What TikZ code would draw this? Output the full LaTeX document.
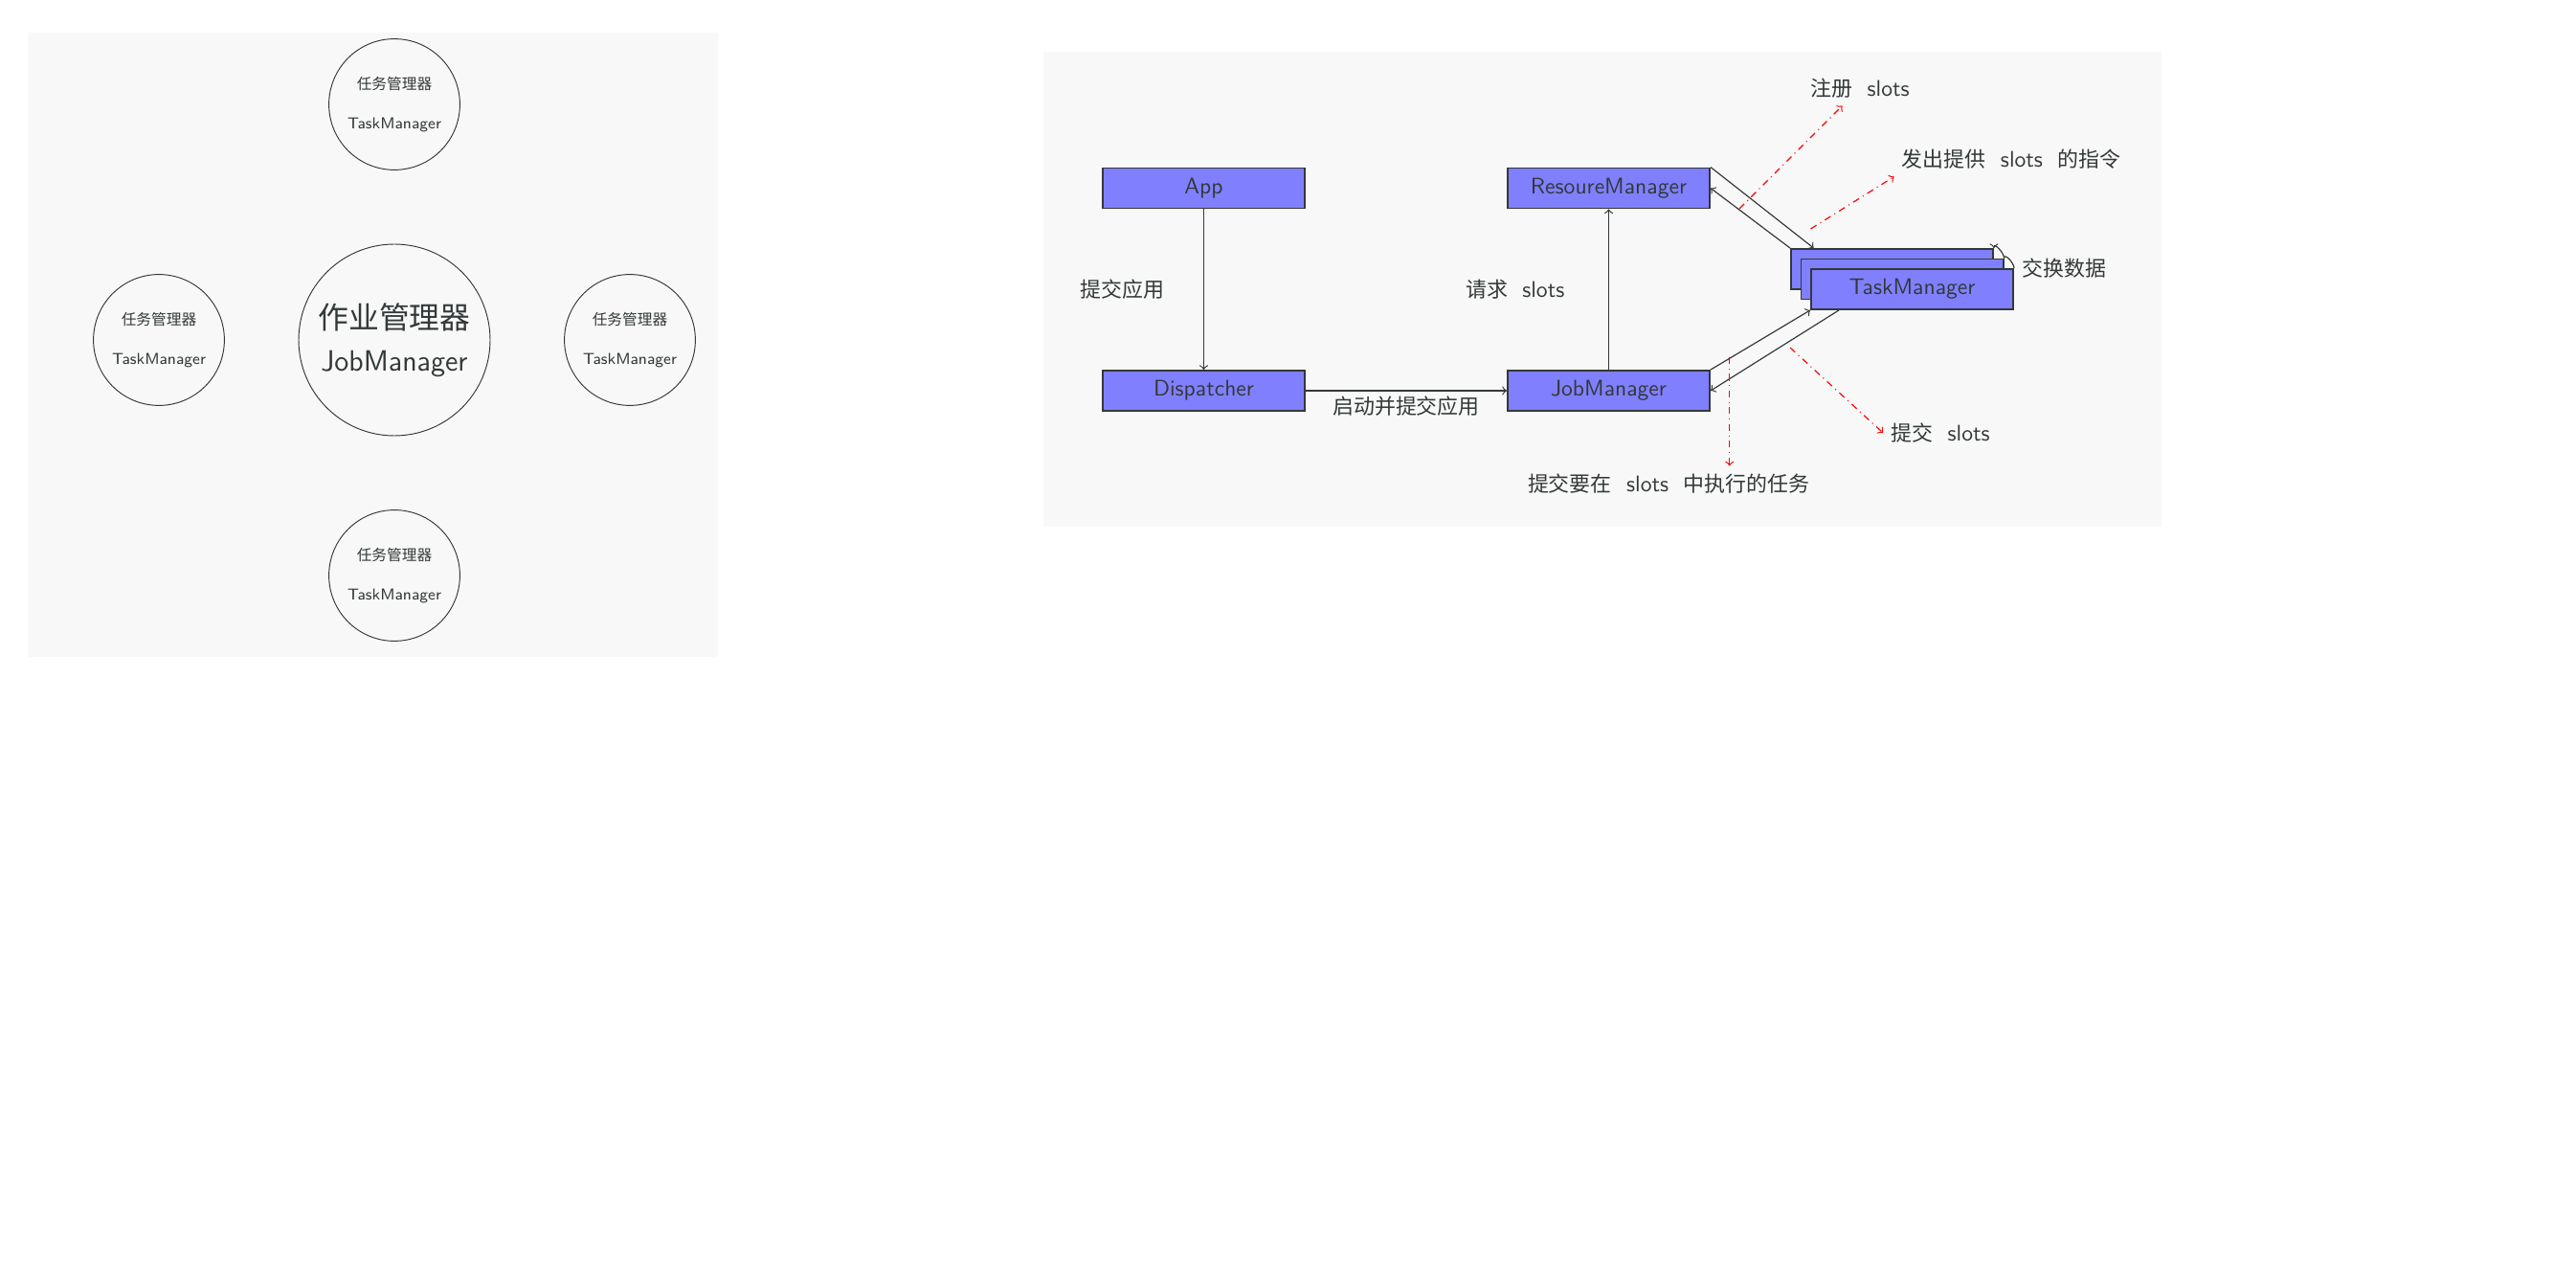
\documentclass[tikz,border=0pt]{standalone}
\usepackage{fontspec}
\usepackage{xcolor}
\usepackage{tikz}
\newfontfamily\cjk[Scale=0.93]{Noto Sans CJK SC}
\definecolor{panelgray}{rgb}{0.973,0.973,0.973}
\definecolor{boxblue}{rgb}{0.5,0.5,1}
\definecolor{inkgray}{rgb}{0.2,0.22,0.22}
\newcommand{\slotgap}{\hspace{6.5pt}}

\begin{document}
\begin{tikzpicture}[x=4.24pt,y=4.24pt,
    every node/.style={font=\sffamily, text=inkgray},
    tmcircle/.style={circle, draw=inkgray, inner sep=0pt, minimum size=58pt, align=center,
        font=\sffamily\fontsize{7}{9}\selectfont},
    jmcircle/.style={circle, draw=inkgray, inner sep=0pt, minimum size=84.8pt, align=center,
        font=\sffamily\fontsize{13}{18.6}\selectfont},
    box/.style={draw=inkgray, thick, fill=boxblue, minimum width=89.5pt, minimum height=17.8pt, inner sep=0pt},
    flow/.style={->, draw=inkgray, line width=0.5pt},
    hint/.style={->, red, dash dot, line width=0.5pt}]
        % Background and panels
        \fill[white] (0,0) rectangle (269.1,134.4);
        \useasboundingbox (0,0) rectangle (269.1,134.4);
        \fill[panelgray] (2.9,65.8) rectangle (75.0,131.0);
        \fill[panelgray] (109.0,79.4) rectangle (225.8,129.0);

        % JobManager with its TaskManagers
        \node[jmcircle] (jm) at (41.2,98.9) {{\cjk\fontsize{14.5}{18}\selectfont 作业管理器}\\JobManager};
        \node[tmcircle] (tmn) at (41.2,123.5) {{\cjk\fontsize{7.15}{9}\selectfont 任务管理器}\\[8.4pt]TaskManager};
        \node[tmcircle] (tmw) at (16.6,98.9) {{\cjk\fontsize{7.15}{9}\selectfont 任务管理器}\\[8.4pt]TaskManager};
        \node[tmcircle] (tme) at (65.8,98.9) {{\cjk\fontsize{7.15}{9}\selectfont 任务管理器}\\[8.4pt]TaskManager};
        \node[tmcircle] (tms) at (41.2,74.3) {{\cjk\fontsize{7.15}{9}\selectfont 任务管理器}\\[8.4pt]TaskManager};

        % Components
        \node[box] (app) at (125.75,114.75) {App};
        \node[box] (disp) at (125.75,93.6) {Dispatcher};
        \node[box] (rm) at (168.05,114.75) {ResoureManager};
        \node[box] (jobm) at (168.05,93.6) {JobManager};
        \node[box] (tm3) at (197.65,106.3) {};
        \node[box] (tm2) at (198.7,105.25) {};
        \node[box] (tm1) at (199.75,104.2) {TaskManager};

        % Connections
        \draw[flow] (app) -- node[left=14pt] {{\cjk 提交应用}} (disp);
        \draw[flow] (disp) -- node[below=-1pt] {{\cjk 启动并提交应用}} (jobm);
        \draw[flow] (jobm) -- node[left=16pt] {{\cjk 请求}\slotgap slots} (rm);
        \draw[flow] (rm.north east) -- (tm3.165);
        \draw[flow] (tm3.north west) -- (rm.east);
        \draw[flow] (jobm.north east) -- (tm1.south west);
        \draw[flow] (tm1.196) -- (jobm.east);

        % Data exchange between TaskManagers
        \draw[flow] (tm2.north east) to[out=90,in=90] (tm3.north east);
        \draw[inkgray, line width=0.5pt] (tm1.north east) to[out=90,in=90] (tm2.north east);
        \node[right] (xchg) at (tm1.north east) {{\cjk 交换数据}};

        % Slot messages
        \coordinate (r1) at (181.7,112.6);
        \coordinate (r2) at (189.15,110.5);
        \coordinate (r3) at (187.0,98.1);
        \coordinate (r4) at (180.67,97.1);
        \node (reg) at (194.3,125.2) {{\cjk 注册}\slotgap slots};
        \node (offer) at (210.1,117.8) {{\cjk 发出提供}\slotgap slots\slotgap{\cjk 的指令}};
        \node (submit) at (202.7,89.2) {{\cjk 提交}\slotgap slots};
        \node (task) at (174.3,83.9) {{\cjk 提交要在}\slotgap slots\slotgap{\cjk 中执行的任务}};
        \draw[hint] (r1) -- (reg);
        \draw[hint] (r2) -- (offer.south west);
        \draw[hint] (r3) -- (submit.west);
        \draw[hint] (r4) -- (r4 |- task.north);
    \end{tikzpicture}
\end{document}
